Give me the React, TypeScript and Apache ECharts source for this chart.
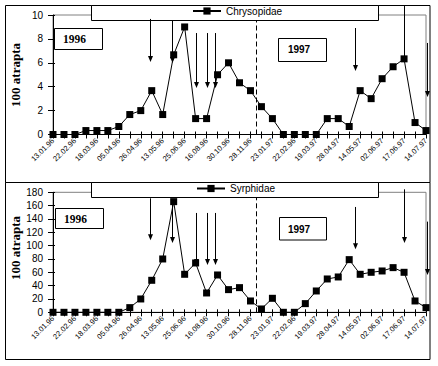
import React, { useEffect, useRef } from 'react';
import * as echarts from 'echarts';

// Tick labels (every second sampling date is labelled)
const dateLabels = [
  '13.01.96', '22.02.96', '18.03.96', '05.04.96', '26.04.96', '13.05.96',
  '25.06.96', '16.08.96', '30.10.96', '28.11.96', '23.01.97', '22.02.96',
  '19.03.97', '28.04.97', '14.05.97', '02.06.97', '17.06.97', '14.07.97',
];

// Series values (100 trapped), one per sampling date
const chrysopidae = [
  0, 0, 0, 0.33, 0.33, 0.33, 0.67, 1.67, 2, 3.67, 1.67, 6.67, 9, 1.33, 1.33, 5,
  6, 4.33, 3.67, 2.33, 1.33, 0, 0, 0, 0, 1.33, 1.33, 0.67, 3.67, 3, 4.67, 5.67,
  6.33, 1, 0.33,
];
const syrphidae = [
  0, 0, 0, 0, 0, 0, 0, 7, 20, 48, 80, 166, 57, 74, 29, 56, 34, 37, 17, 5, 21,
  0, 0, 13, 32, 50, 53, 79, 57, 60, 62, 67, 60, 17, 7,
];

// Annotation arrows: position on the sample axis and [from, to] values
const arrowX = [8.8, 10.85, 13.05, 14.0, 14.8, 27.5, 32.0, 34.1];
const chrysArrows = [
  [9.67, 6.07], [9.58, 5.98], [8.49, 3.89], [8.49, 3.89], [8.49, 3.89],
  [8.91, 5.31], [10.75, 6.07], [7.66, 3.14],
];
const syrphArrows = [
  [171, 108], [164, 104], [149, 71], [149, 71], [149, 71],
  [158, 94.5], [184.5, 104], [136, 56],
];
const yearDivide = 18.5;

const SANS = '"Liberation Sans", Arial, sans-serif';
const SERIF = '"Liberation Serif", "Times New Roman", serif';

const xMain = (gridIndex: number) => ({
  type: 'value',
  gridIndex,
  min: 0,
  max: chrysopidae.length - 1,
  interval: 1,
  position: 'bottom',
  axisLine: { show: true, onZero: false, lineStyle: { color: '#000', width: 1 } },
  axisTick: { show: true, length: 4, lineStyle: { color: '#000' } },
  axisLabel: {
    show: true,
    rotate: 45,
    fontSize: 7.5,
    fontFamily: SANS,
    color: '#000',
    margin: 5,
    formatter: (v: number) => (v % 2 === 0 ? dateLabels[v / 2] ?? '' : ''),
  },
  splitLine: { show: false },
});
const xInner = (gridIndex: number) => ({
  type: 'value',
  gridIndex,
  min: 0,
  max: chrysopidae.length - 1,
  interval: 1,
  position: 'bottom',
  axisLine: { show: false },
  axisTick: { show: true, inside: true, length: 3, lineStyle: { color: '#000' } },
  axisLabel: { show: false },
  splitLine: { show: false },
});
const yMain = (gridIndex: number, max: number, interval: number) => ({
  type: 'value',
  gridIndex,
  min: 0,
  max,
  interval,
  position: 'left',
  axisLine: { show: true, onZero: false, lineStyle: { color: '#000', width: 1 } },
  axisTick: { show: true, length: 5, lineStyle: { color: '#000' } },
  axisLabel: { fontSize: 10, fontFamily: SANS, color: '#000', margin: 10 },
  splitLine: { show: false },
});
const yInner = (gridIndex: number, max: number, interval: number) => ({
  type: 'value',
  gridIndex,
  min: 0,
  max,
  interval,
  position: 'left',
  axisLine: { show: false },
  axisTick: { show: true, inside: true, length: 2, lineStyle: { color: '#000' } },
  axisLabel: { show: false },
  splitLine: { show: false },
});

const dashed = {
  silent: true,
  symbol: ['none', 'none'],
  label: { show: false },
  lineStyle: { color: '#000', width: 1, type: [5, 3] },
  data: [{ xAxis: yearDivide }],
};

const lineSeries = (name: string, values: number[], axisIndex: number) => ({
  type: 'line',
  name,
  xAxisIndex: axisIndex,
  yAxisIndex: axisIndex,
  data: values.map((v, i) => [i, v]),
  symbol: 'rect',
  symbolSize: 7,
  showAllSymbol: true,
  clip: false,
  lineStyle: { color: '#000', width: 1 },
  itemStyle: { color: '#000', borderWidth: 0 },
  emphasis: { disabled: true },
  markLine: dashed,
});

const legendBase = {
  orient: 'horizontal',
  padding: 0,
  itemWidth: 28,
  itemHeight: 9,
  itemGap: 0,
  z: 20,
  selectedMode: false,
  textStyle: { fontSize: 10, fontFamily: SANS, color: '#000' },
};

export default function App() {
  const ref = useRef<HTMLDivElement>(null);
  useEffect(() => {
    const chart = echarts.init(ref.current!, null, { renderer: 'svg' });
    chart.setOption({
      animation: false,
      grid: [
        { left: 53, top: 15, width: 373, height: 119.5, show: true, borderColor: '#808080', borderWidth: 1, backgroundColor: 'transparent' },
        { left: 53, top: 192.3, width: 373, height: 120, show: true, borderColor: '#808080', borderWidth: 1, backgroundColor: 'transparent' },
      ],
      xAxis: [xMain(0), xMain(1), xInner(0), xInner(1)],
      yAxis: [yMain(0, 10, 2), yMain(1, 180, 20), yInner(0, 10, 2), yInner(1, 180, 20)],
      legend: [
        { ...legendBase, data: ['Chrysopidae'], left: 192, top: 6 },
        { ...legendBase, data: ['Syrphidae'], left: 196, top: 183.5 },
      ],
      series: [
        lineSeries('Chrysopidae', chrysopidae, 0),
        lineSeries('Syrphidae', syrphidae, 1),
      ],
    });

    const els: any[] = [];
    const box = (x: number, y: number, w: number, h: number) =>
      els.push({ type: 'rect', z: 10, shape: { x, y, width: w, height: h }, style: { fill: '#fff', stroke: '#000', lineWidth: 1 } });
    const frame = (x: number, y: number, w: number, h: number) =>
      els.push({ type: 'rect', z: 9, silent: true, shape: { x, y, width: w, height: h }, style: { fill: 'none', stroke: '#000', lineWidth: 1 } });
    const txt = (text: string, x: number, y: number, size: number, family: string, rotation = 0) =>
      els.push({
        type: 'text', z: 11, x, y, rotation,
        style: { text, fontSize: size, fontWeight: 'bold', fontFamily: family, fill: '#000', align: 'center', verticalAlign: 'middle' },
      });

    frame(5.5, 5.5, 424.5, 177);
    frame(5.5, 182.5, 424.5, 177);
    box(91.5, 5.5, 287, 15);
    box(91.5, 182.5, 287, 15);
    box(54.5, 28.5, 48, 21);
    box(278.5, 38.5, 48, 23);
    box(55.5, 208.5, 48, 20);
    box(279.5, 217.5, 47, 22.5);
    txt('1996', 74.5, 38.5, 11.5, SERIF);
    txt('1997', 299, 49.5, 10, SANS);
    txt('1996', 75.5, 218.5, 11.5, SERIF);
    txt('1997', 299, 229, 10, SANS);
    txt('100 atrapta', 15, 75, 13, SERIF, Math.PI / 2);
    txt('100 atrapta', 15, 248, 13, SERIF, Math.PI / 2);

    const addArrows = (axisIndex: number, spans: number[][]) => {
      arrowX.forEach((ax, i) => {
        const [from, to] = spans[i];
        const p0 = chart.convertToPixel({ xAxisIndex: axisIndex, yAxisIndex: axisIndex }, [ax, from]) as number[];
        const p1 = chart.convertToPixel({ xAxisIndex: axisIndex, yAxisIndex: axisIndex }, [ax, to]) as number[];
        const x = Math.round(p0[0]) + 0.5;
        const y0 = p0[1];
        const y1 = p1[1];
        els.push({ type: 'line', z: 12, silent: true, shape: { x1: x, y1: y0, x2: x, y2: y1 - 5 }, style: { stroke: '#000', lineWidth: 1 } });
        els.push({ type: 'polygon', z: 12, silent: true, shape: { points: [[x - 2.5, y1 - 6], [x + 2.5, y1 - 6], [x, y1]] }, style: { fill: '#000' } });
      });
    };
    addArrows(0, chrysArrows);
    addArrows(1, syrphArrows);

    chart.setOption({ graphic: { elements: els } });
    return () => chart.dispose();
  }, []);
  return <div ref={ref} style={{ width: 438, height: 366, position: 'absolute', left: 0, top: 0 }} />;
}
